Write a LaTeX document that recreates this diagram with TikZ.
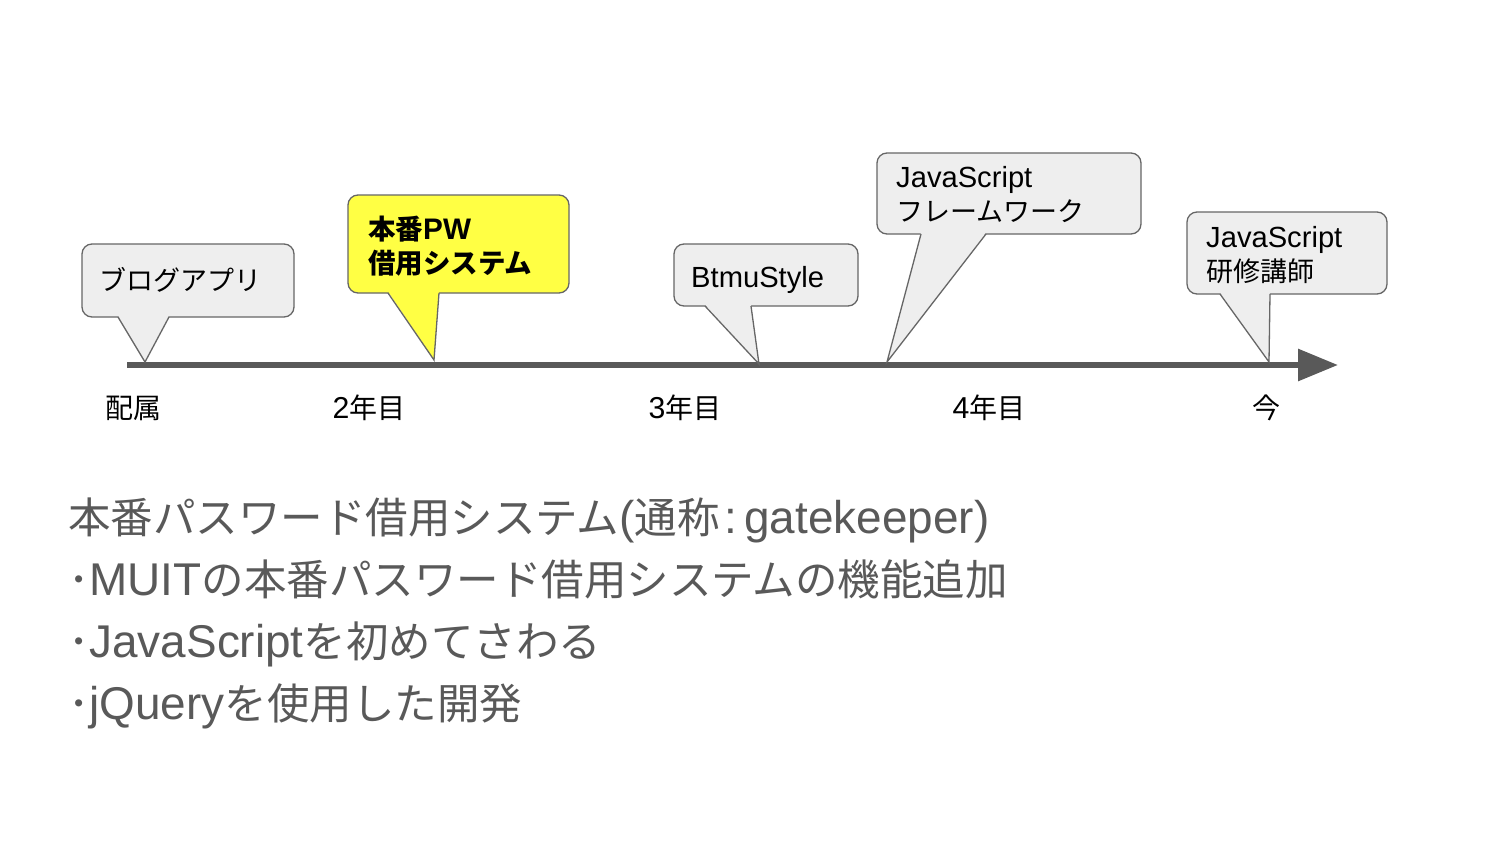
\documentclass[tikz,border=0pt]{standalone}
\usepackage{fontspec}
\setmainfont{Liberation Sans}[Scale=1.08]
\newfontfamily\jp{Noto Sans CJK JP}
\usetikzlibrary{calc,arrows.meta}
\definecolor{axisgray}{HTML}{595959}
\definecolor{boxgray}{HTML}{EEEEEE}
\definecolor{linegray}{HTML}{666666}
\definecolor{noteyellow}{HTML}{FFFF44}
\tikzset{
	bubble/.style={draw=linegray, line width=1.3pt, rounded corners=10pt, outer sep=0pt, inner sep=0pt},
	tail/.style={draw=linegray, line width=1.3pt, line join=miter},
	bubbletext/.style={anchor=base west, align=left, inner sep=0pt, font=\fontsize{27}{34}\selectfont},
	yeartext/.style={anchor=base, inner sep=0pt, font=\fontsize{28}{34}\selectfont},
}
\def\bubbletail[#1](#2)(#3:#4)(#5){%
	\fill[#1] ($(#2.south west)+(#3,-1.5)$) -- (#5) -- ($(#2.south west)+(#4,-1.5)$) -- cycle;
	\draw[tail] ($(#2.south west)+(#3,0)$) -- (#5) -- ($(#2.south west)+(#4,0)$);}

\begin{document}
\begin{tikzpicture}[x=1pt, y=-1pt]
			%%%%% START %%%%%
			
			\fill[white] (0,0) rectangle (1500,843);
			\useasboundingbox (0,0) rectangle (1500,843);
			
			\coordinate (axisstart) at (127,365);
			\coordinate (axisend) at (1338,365);
			\draw[axisgray, line width=6pt, -{Triangle[length=40pt,width=31pt]}] (axisstart) -- (axisend);
			
			\coordinate (tipblog) at (145,362);
			\coordinate (tippw) at (434,360);
			\coordinate (tipbtmu) at (759,364);
			\coordinate (tipfw) at (887,362);
			\coordinate (tiplecture) at (1269,362);
			
			\node[bubble, fill=boxgray, minimum width=212pt, minimum height=73pt] (blog) at (188,280.5) {};
			\node[bubble, fill=noteyellow, minimum width=221pt, minimum height=98pt] (pw) at (458.5,244) {};
			\node[bubble, fill=boxgray, minimum width=184pt, minimum height=62pt] (btmu) at (766,275) {};
			\node[bubble, fill=boxgray, minimum width=264pt, minimum height=81pt] (fw) at (1009,193.5) {};
			\node[bubble, fill=boxgray, minimum width=200pt, minimum height=82pt] (lecture) at (1287,253) {};
			
			\bubbletail[boxgray](blog)(36:87)(tipblog);
			\bubbletail[noteyellow](pw)(40:91)(tippw);
			\bubbletail[boxgray](btmu)(31:77)(tipbtmu);
			\bubbletail[boxgray](fw)(44:109)(tipfw);
			\bubbletail[boxgray](lecture)(33:83)(tiplecture);
			
			% base anchor of a two-line text = last line
			\node[bubbletext] (blogtext) at (99,290) {\jp ブログアプリ};
			\node[bubbletext, font=\bfseries\fontsize{27.5}{34}\selectfont] (pwtext) at (368,273) {{\jp 本番}PW\\{\jp 借用システム}};
			\node[bubbletext] (btmutext) at (691,287) {BtmuStyle};
			\node[bubbletext] (fwtext) at (896,221) {JavaScript\\{\jp フレームワーク}};
			\node[bubbletext] (lecturetext) at (1206,281) {JavaScript\\{\jp 研修講師}};
			
			\node[yeartext] (join) at (133,418) {\jp 配属};
			\node[yeartext] (year2) at (369,418) {2{\jp 年目}};
			\node[yeartext] (year3) at (685,418) {3{\jp 年目}};
			\node[yeartext] (year4) at (989,418) {4{\jp 年目}};
			\node[yeartext] (now) at (1266,418) {\jp 今};
			
			\node[anchor=base west, align=left, inner sep=0pt, text=axisgray, font=\fontsize{42.5}{62}\selectfont] (summary) at (68,719)
				{{\jp 本番パスワード借用システム}({\jp 通称}\hspace{5pt}:\hspace{7pt}gatekeeper)\\
				{\jp ･}MUIT{\jp の本番パスワード借用システムの機能追加}\\
				{\jp ･}JavaScript{\jp を初めてさわる}\\
				{\jp ･}jQuery{\jp を使用した開発}};
			
			%%%%% END %%%%%
\end{tikzpicture}
\end{document}
